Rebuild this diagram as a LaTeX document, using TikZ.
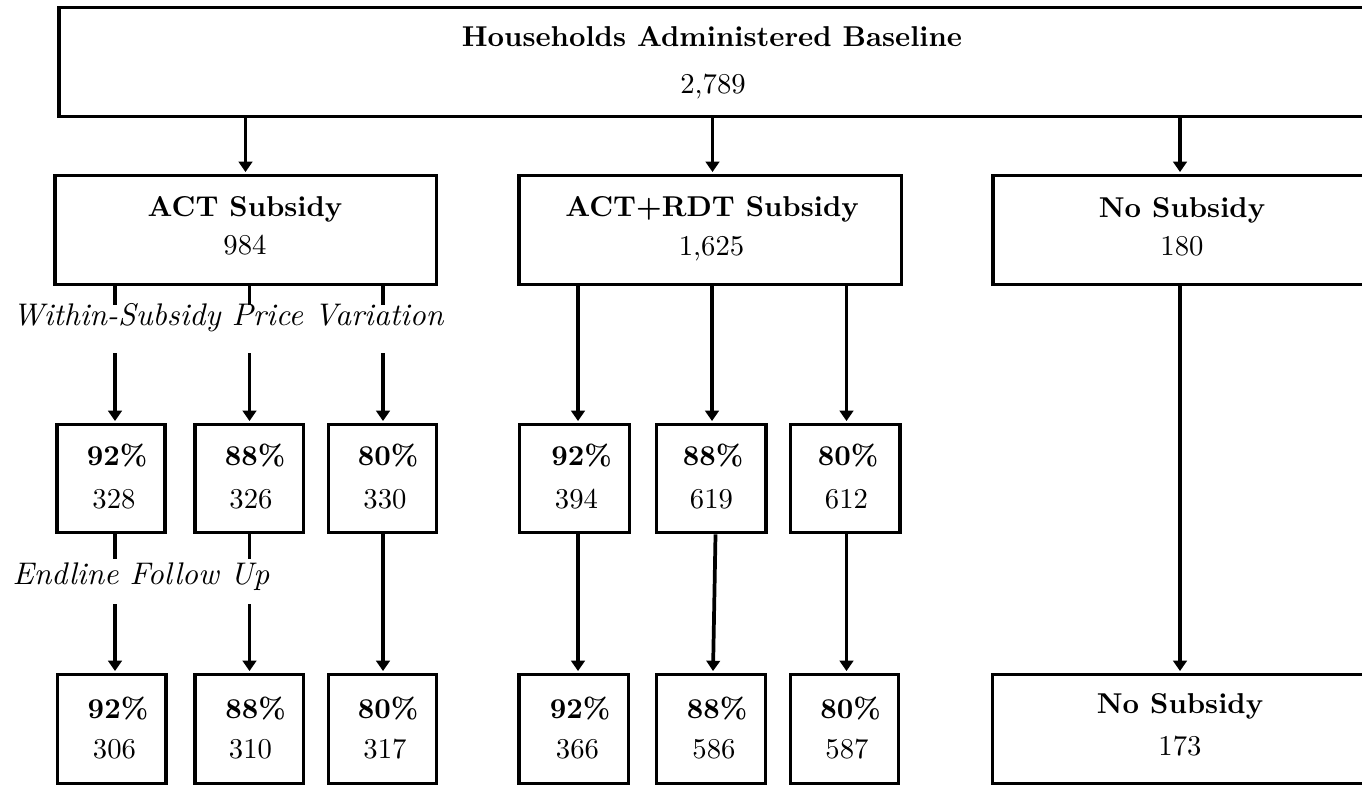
\documentclass[tikz,border=0pt]{standalone}
\usetikzlibrary{arrows.meta,fit}
\begin{document}
\begin{tikzpicture}[x=0.3484pt,y=-0.3484pt,
  bx/.style={draw, line width=1.3pt, inner sep=0pt, rectangle},
  txt/.style={inner sep=0pt, anchor=base},
  btxt/.style={inner sep=0pt, anchor=base, font=\bfseries},
  itxt/.style={inner sep=0pt, anchor=base west, font=\fontsize{10.9}{13}\selectfont\itshape},
  ln/.style={line width=1.3pt},
  arr/.style={line width=1.3pt, -{Triangle[width=4.7pt,length=3.6pt]}, shorten >=0.55pt}]
\useasboundingbox (0,0) rectangle (1362,786);
\clip (0,0) rectangle (1362,786);

% column coordinates
\coordinate (k1) at (245.5,0);
\coordinate (k2) at (712.5,0);
\coordinate (k3) at (1180,0);
\coordinate (c1) at (115,0);
\coordinate (c2) at (249.5,0);
\coordinate (c3) at (383,0);
\coordinate (d1) at (578,0);
\coordinate (d2t) at (715.5,0);
\coordinate (d2b) at (713,0);
\coordinate (d2) at (712,0);
\coordinate (d3) at (846.5,0);

% top
\node[bx, fit={(59,7.5) (1400,116.5)}] (top) {};
\node[btxt] (topt) at (712,47) {Households Administered Baseline};
\node[txt] (topn) at (713,94) {2,789};

% row 2
\node[bx, fit={(55,175.5) (436.5,284.5)}] (act) {};
\node[btxt] (actt) at (245,217) {ACT Subsidy};
\node[txt] (actn) at (245,255) {984};
\node[bx, fit={(519,175.5) (901.5,284.5)}] (rdt) {};
\node[btxt] (rdtt) at (712,217) {ACT+RDT Subsidy};
\node[txt] (rdtn) at (711.5,256) {1,625};
\node[bx, fit={(993,175.5) (1400,284.5)}] (nos) {};
\node[btxt] (nost) at (1182,218) {No Subsidy};
\node[txt] (nosn) at (1182,256) {180};

% row 3
\node[bx, fit={(57,424.5) (165,532.5)}] (a1) {};
\node[bx, fit={(195,424.5) (303.5,532.5)}] (a2) {};
\node[bx, fit={(328.5,424.5) (436.5,532.5)}] (a3) {};
\node[bx, fit={(519.5,424.5) (629.5,532.5)}] (r1) {};
\node[bx, fit={(656.5,424.5) (766,532.5)}] (r2) {};
\node[bx, fit={(790.5,424.5) (900,532.5)}] (r3) {};
\node[btxt] (a1p) at (117,465) {92\%};
\node[txt]  (a1n) at (114,508) {328};
\node[btxt] (a2p) at (255,465) {88\%};
\node[txt]  (a2n) at (251,508) {326};
\node[btxt] (a3p) at (388,465) {80\%};
\node[txt]  (a3n) at (385,508) {330};
\node[btxt] (r1p) at (581.5,465) {92\%};
\node[txt]  (r1n) at (576.5,508) {394};
\node[btxt] (r2p) at (713,465) {88\%};
\node[txt]  (r2n) at (711.5,508) {619};
\node[btxt] (r3p) at (848,465) {80\%};
\node[txt]  (r3n) at (846.5,508) {612};

% row 4
\node[bx, fit={(57.5,674.5) (166,783.5)}] (b1) {};
\node[bx, fit={(195,674.5) (303.5,783.5)}] (b2) {};
\node[bx, fit={(328.5,674.5) (436.5,783.5)}] (b3) {};
\node[bx, fit={(519,674.5) (628.5,783.5)}] (s1) {};
\node[bx, fit={(656.5,674.5) (765.5,783.5)}] (s2) {};
\node[bx, fit={(790.5,674.5) (898.5,783.5)}] (s3) {};
\node[bx, fit={(992.5,674.5) (1400,783.5)}] (nos2) {};
\node[btxt] (b1p) at (118,718) {92\%};
\node[txt]  (b1n) at (114.5,758) {306};
\node[btxt] (b2p) at (255.5,718) {88\%};
\node[txt]  (b2n) at (250.5,758) {310};
\node[btxt] (b3p) at (388,718) {80\%};
\node[txt]  (b3n) at (385,758) {317};
\node[btxt] (s1p) at (580,718) {92\%};
\node[txt]  (s1n) at (577.5,758) {366};
\node[btxt] (s2p) at (717,718) {88\%};
\node[txt]  (s2n) at (714,758) {586};
\node[btxt] (s3p) at (850.5,718) {80\%};
\node[txt]  (s3n) at (847,758) {587};
\node[btxt] (nos2t) at (1180,713) {No Subsidy};
\node[txt]  (nos2n) at (1180,755) {173};

% labels
\node[itxt] (lab1) at (12,325) {Within-Subsidy Price Variation};
\node[itxt] (lab2) at (12,584) {Endline Follow Up};

% gap coordinates
\coordinate (g1a) at (115,305);   \coordinate (g1b) at (115,353);
\coordinate (g2a) at (249.5,305); \coordinate (g2b) at (249.5,353);
\coordinate (g3a) at (383,305);   \coordinate (g3b) at (383,353);
\coordinate (h1a) at (115,559);   \coordinate (h1b) at (115,604);
\coordinate (h2a) at (249.5,559); \coordinate (h2b) at (249.5,604);

% connectors: top to row 2
\draw[arr] (top.south -| k1) -- (act.north -| k1);
\draw[arr] (top.south -| k2) -- (rdt.north -| k2);
\draw[arr] (top.south -| k3) -- (nos.north -| k3);

% ACT to row 3
\draw[ln] (act.south -| c1) -- (g1a);
\draw[arr] (g1b) -- (a1.north -| c1);
\draw[ln] (act.south -| c2) -- (g2a);
\draw[arr] (g2b) -- (a2.north -| c2);
\draw[ln] (act.south -| c3) -- (g3a);
\draw[arr] (g3b) -- (a3.north -| c3);

% ACT row 3 to row 4
\draw[ln] (a1.south -| c1) -- (h1a);
\draw[arr] (h1b) -- (b1.north -| c1);
\draw[ln] (a2.south -| c2) -- (h2a);
\draw[arr] (h2b) -- (b2.north -| c2);
\draw[arr] (a3.south -| c3) -- (b3.north -| c3);

% ACT+RDT
\draw[arr] (rdt.south -| d1) -- (r1.north -| d1);
\draw[arr] (rdt.south -| d2) -- (r2.north -| d2);
\draw[arr] (rdt.south -| d3) -- (r3.north -| d3);
\draw[arr] (r1.south -| d1) -- (s1.north -| d1);
\draw[arr] (r2.south -| d2t) -- (s2.north -| d2b);
\draw[arr] (r3.south -| d3) -- (s3.north -| d3);

% No subsidy
\draw[arr] (nos.south -| k3) -- (nos2.north -| k3);
\end{tikzpicture}
\end{document}
